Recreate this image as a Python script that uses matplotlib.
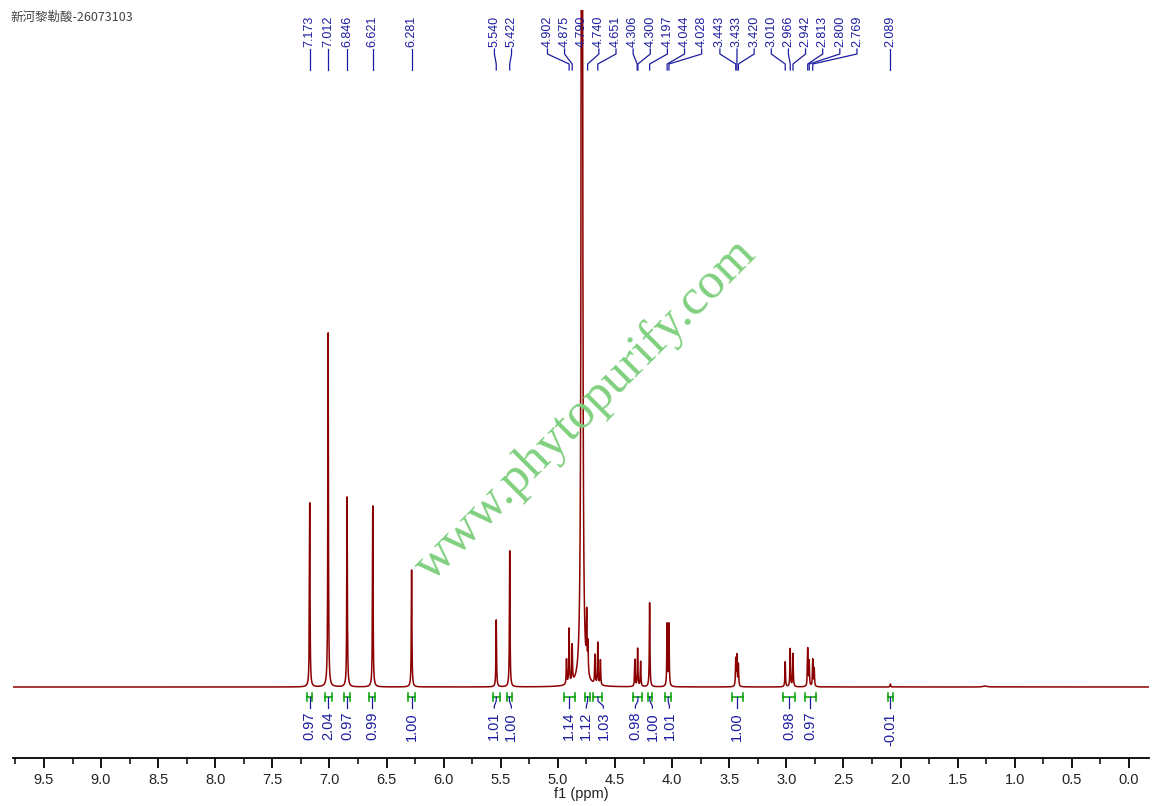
import numpy as np
import matplotlib
matplotlib.use("Agg")
import matplotlib.pyplot as plt
from matplotlib.ticker import MultipleLocator

title = "新河黎勒酸-26073103"

# resonances: shift (ppm) and peak height (baseline = 0)
line_ppm = [7.173, 7.012, 6.846, 6.621, 6.281, 5.540, 5.422,
            4.925, 4.902, 4.875, 4.790, 4.748, 4.737,
            4.676, 4.651, 4.628, 4.326, 4.302, 4.276, 4.197, 4.044, 4.028,
            3.443, 3.433, 3.420, 3.010, 2.966, 2.942,
            2.813, 2.800, 2.769, 2.756, 2.089, 1.260]
line_height = [184, 354, 190, 181, 117, 67, 136,
               25, 55, 37, 2500, 55, 30,
               29, 42, 25, 27, 38, 25, 84, 62, 62,
               27, 30, 22, 25, 38, 33,
               38, 25, 27, 18, 3, 1.0]
line_hwhm = [0.003] * 10 + [0.004] + [0.003] * 22 + [0.02]

# peak picking labels
peak_labels = [7.173, 7.012, 6.846, 6.621, 6.281, 5.540, 5.422, 4.902, 4.875,
               4.790, 4.740, 4.651, 4.306, 4.300, 4.197, 4.044, 4.028,
               3.443, 3.433, 3.420, 3.010, 2.966, 2.942, 2.813, 2.800, 2.769]
extra_label = 2.089

# integrals
int_from = [7.20, 7.04, 6.87, 6.65, 6.31, 5.57, 5.45, 4.95, 4.76, 4.69,
            4.34, 4.21, 4.06, 3.48, 3.03, 2.84, 2.11]
int_to = [7.15, 6.98, 6.82, 6.60, 6.25, 5.51, 5.40, 4.85, 4.72, 4.61,
          4.26, 4.18, 4.01, 3.38, 2.92, 2.74, 2.07]
int_values = [0.97, 2.04, 0.97, 0.99, 1.00, 1.01, 1.00, 1.14, 1.12, 1.03,
              0.98, 1.00, 1.01, 1.00, 0.98, 0.97, -0.01]


def spread(vals, gap):
    """spread label positions (ppm, descending) so they are at least gap apart"""
    u = np.sort(-np.asarray(vals, float))
    clusters = [[u[0]]]
    for x in u[1:]:
        if x - clusters[-1][-1] < gap:
            clusters[-1].append(x)
        else:
            clusters.append([x])
    out = []
    for c in clusters:
        n = len(c)
        start = np.mean(c) - (n - 1) / 2 * gap
        if out and start < out[-1] + gap:
            start = out[-1] + gap
        out += [start + k * gap for k in range(n)]
    return -np.array(out)


ppm = np.linspace(-0.3, 9.9, 60000)
spec = np.zeros_like(ppm)
for c, h, w in zip(line_ppm, line_height, line_hwhm):
    spec += h * w**2 / ((ppm - c)**2 + w**2)

fig = plt.figure(figsize=(11.57, 8.06), dpi=100)
ax = fig.add_axes([13 / 1157, 1 - 758 / 806, 1136 / 1157, 748 / 806])
ax.set_xlim(9.771, -0.175)
ax.set_ylim(-71, 677)

ax.plot(ppm, spec, color="#8b0000", lw=1.1, zorder=3)

blue = "#1c1ca0"
green = "#00a000"

# peak labels on top
lab_x = spread(peak_labels, 0.150)
for p, xl in zip(sorted(peak_labels, reverse=True), lab_x):
    ax.plot([xl, xl, p, p], [638, 633, 623, 617], color=blue, lw=0.9)
    ax.text(xl, 640, f"{p:.3f}", rotation=90, ha="center", va="bottom",
            fontsize=9, color=blue, family="Liberation Sans")
ax.plot([extra_label] * 2, [638, 617], color=blue, lw=0.9)
ax.text(extra_label, 640, f"{extra_label:.3f}", rotation=90, ha="center",
        va="bottom", fontsize=9, color=blue, family="Liberation Sans")

# integrals below the baseline
centres = [(a + b) / 2 for a, b in zip(int_from, int_to)]
int_x = spread(centres, 0.149)
for a, b, c, xl, v in zip(int_from, int_to, centres, int_x, int_values):
    ax.plot([a, b], [-10, -10], color=green, lw=1.1)
    ax.plot([a, a], [-6, -14], color=green, lw=1.1)
    ax.plot([b, b], [-6, -14], color=green, lw=1.1)
    ax.plot([c, c, xl, xl], [-10, -14, -19, -21], color=blue, lw=0.9)
    ax.text(xl, -25, f"{v:.2f}", rotation=90, ha="center", va="top",
            fontsize=10.5, color=blue, family="Liberation Sans")

# watermark
ax.text(4.76, 277, "www.phytopurify.com", rotation=45, rotation_mode="anchor",
        ha="center", va="center", fontsize=37, color="#80d080",
        family="Liberation Serif", zorder=4)

for s in ["top", "left", "right"]:
    ax.spines[s].set_visible(False)
ax.spines["bottom"].set_linewidth(1.3)
ax.set_yticks([])
ax.xaxis.set_major_locator(MultipleLocator(0.5))
ax.xaxis.set_minor_locator(MultipleLocator(0.25))
ax.tick_params(axis="x", which="major", length=7, width=1.3, pad=4,
               labelsize=10.5, labelcolor="#222222")
ax.tick_params(axis="x", which="minor", length=4, width=1.1)
ax.set_xticks(np.arange(0, 9.6, 0.5))
ax.set_xticklabels([f"{t:.1f}" for t in np.arange(0, 9.6, 0.5)],
                   family="Liberation Sans")
ax.set_xlabel("f1 (ppm)", fontsize=10.5, family="Liberation Sans",
              color="#222222", labelpad=0)

fig.text(10 / 1157, 1 - 17 / 806, title, fontsize=9, color="#444444",
         va="center", family=["Noto Sans CJK SC", "DejaVu Sans"])

fig.savefig("out.png", dpi=100)
